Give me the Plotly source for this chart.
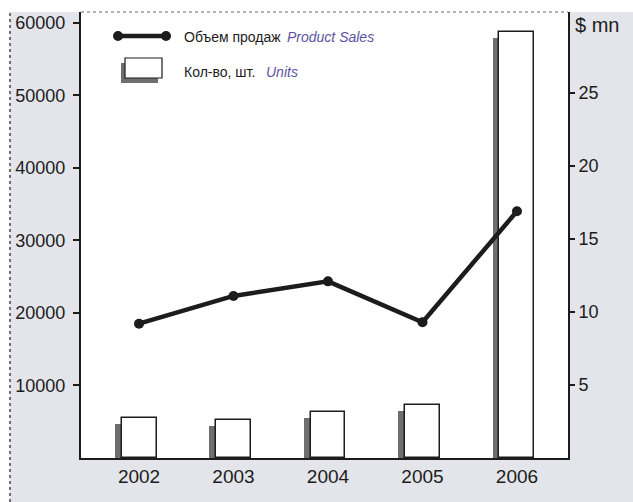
import plotly.graph_objects as go

# Annual figures
years = ["2002", "2003", "2004", "2005", "2006"]
units = [5500, 5200, 6300, 7300, 58800]          # Кол-во, шт. (left axis)
sales = [9.2, 11.1, 12.1, 9.3, 16.9]              # Объем продаж, $ mn (right axis)

left_ticks = [10000, 20000, 30000, 40000, 50000, 60000]
right_ticks = [5, 10, 15, 20, 25]

FONT = "Liberation Sans, Arial, Helvetica, sans-serif"
INK = "#1c1c1c"
SHADOW = "#6f6f6f"
FRAME_BG = "#e3e5ea"
ACCENT = "#5d54a4"

W, H = 633, 502
ML, MR, MT, MB = 81, 65, 12, 44
PW, PH = W - ML - MR, H - MT - MB


def px(x):
    return (x - ML) / PW


def py(y):
    return (H - MB - y) / PH


BAR_W = 0.37
SH_DX = 0.074      # shadow shift to the left (category units)
SH_DY = 830        # shadow drop (left-axis units)

fig = go.Figure()

# drop shadow behind each bar
fig.add_trace(go.Bar(
    x=years, y=[u - SH_DY for u in units],
    width=BAR_W, offset=-BAR_W / 2 - SH_DX,
    marker=dict(color=SHADOW, line=dict(width=0)),
    yaxis="y", showlegend=False, hoverinfo="skip",
))
# unit bars
fig.add_trace(go.Bar(
    x=years, y=units,
    width=BAR_W, offset=-BAR_W / 2,
    marker=dict(color="white", line=dict(color=INK, width=1.5)),
    yaxis="y", name="Кол-во, шт.", showlegend=False,
))
# sales line
fig.add_trace(go.Scatter(
    x=years, y=sales, mode="lines+markers",
    line=dict(color=INK, width=4.5),
    marker=dict(color=INK, size=10),
    yaxis="y2", name="Объем продаж", showlegend=False,
))

shapes = [
    # white margins around the framed panel
    dict(type="rect", xref="paper", yref="paper", x0=px(0), x1=px(W), y0=py(MT), y1=py(0),
         fillcolor="white", line=dict(width=0), layer="below"),
    dict(type="rect", xref="paper", yref="paper", x0=px(0), x1=px(10), y0=py(H), y1=py(0),
         fillcolor="white", line=dict(width=0), layer="below"),
    dict(type="line", xref="paper", yref="paper", x0=px(10), x1=px(10), y0=py(H), y1=py(MT),
         line=dict(color="#444", width=1.5, dash="dot")),
    # top edge of the plot panel
    dict(type="line", xref="paper", yref="paper", x0=0, x1=1, y0=1, y1=1,
         line=dict(color="#666", width=1.2, dash="dot")),
    # legend: line sample
    dict(type="line", xref="paper", yref="paper", x0=px(118), x1=px(166), y0=py(36), y1=py(36),
         line=dict(color=INK, width=4.5)),
    dict(type="circle", xref="paper", yref="paper", x0=px(113), x1=px(123), y0=py(31), y1=py(41),
         fillcolor=INK, line=dict(width=0)),
    dict(type="circle", xref="paper", yref="paper", x0=px(161), x1=px(171), y0=py(31), y1=py(41),
         fillcolor=INK, line=dict(width=0)),
    # legend: bar sample with shadow
    dict(type="rect", xref="paper", yref="paper", x0=px(121), x1=px(158), y0=py(83), y1=py(63),
         fillcolor=SHADOW, line=dict(width=0)),
    dict(type="rect", xref="paper", yref="paper", x0=px(125), x1=px(162), y0=py(78), y1=py(58),
         fillcolor="white", line=dict(color=INK, width=1.2)),
]

ann_font = dict(family=FONT, size=14, color=INK)
acc_font = dict(family=FONT, size=14, color=ACCENT)
annotations = [
    dict(text="Объем продаж", x=px(182), y=py(37), xref="paper", yref="paper",
         xanchor="left", yanchor="middle", showarrow=False, font=ann_font),
    dict(text="<i>Product Sales</i>", x=px(285), y=py(37), xref="paper", yref="paper",
         xanchor="left", yanchor="middle", showarrow=False, font=acc_font),
    dict(text="Кол-во, шт.", x=px(182), y=py(72), xref="paper", yref="paper",
         xanchor="left", yanchor="middle", showarrow=False, font=ann_font),
    dict(text="<i>Units</i>", x=px(264), y=py(72), xref="paper", yref="paper",
         xanchor="left", yanchor="middle", showarrow=False, font=acc_font),
    dict(text="$ mn", x=px(573), y=py(25), xref="paper", yref="paper",
         xanchor="left", yanchor="middle", showarrow=False,
         font=dict(family=FONT, size=20, color=INK)),
]

fig.update_layout(
    width=W, height=H,
    margin=dict(l=ML, r=MR, t=MT, b=MB, pad=0),
    paper_bgcolor=FRAME_BG, plot_bgcolor="white",
    barmode="overlay", bargap=0,
    font=dict(family=FONT, color=INK),
    shapes=shapes, annotations=annotations,
    xaxis=dict(
        type="category", range=[-0.614, 4.54],
        showgrid=False, zeroline=False,
        showline=True, linecolor=INK, linewidth=2,
        ticks="", tickfont=dict(size=19, family=FONT, color=INK),
        ticklabelstandoff=0,
    ),
    yaxis=dict(
        range=[0, 61500], tickvals=left_ticks, tickformat="d",
        showgrid=False, zeroline=False,
        showline=True, linecolor=INK, linewidth=2,
        ticks="outside", ticklen=6, tickwidth=2, tickcolor=INK,
        tickfont=dict(size=18, family=FONT, color=INK),
        ticklabelstandoff=4,
    ),
    yaxis2=dict(
        overlaying="y", side="right", anchor="x",
        range=[0, 30.55], tickvals=right_ticks,
        showgrid=False, zeroline=False,
        showline=True, linecolor=INK, linewidth=2,
        ticks="outside", ticklen=5, tickwidth=2, tickcolor=INK,
        tickfont=dict(size=18, family=FONT, color=INK),
    ),
)

fig.write_html("out.html")
